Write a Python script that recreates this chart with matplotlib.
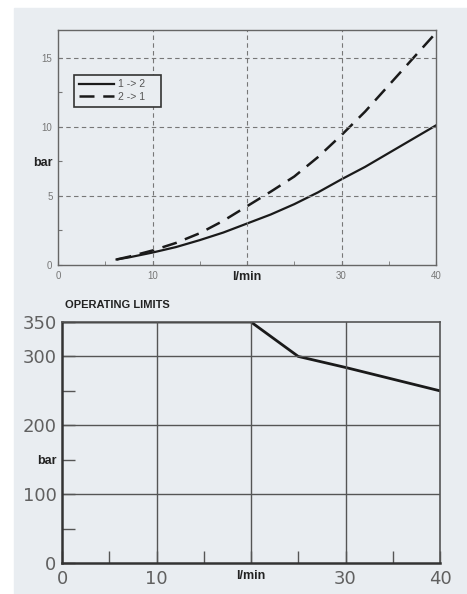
import matplotlib.pyplot as plt
from matplotlib.patches import Rectangle

# pressure drop curves (top chart)
flow_12 = [6.2, 7.5, 10, 12.5, 15, 17.5, 20, 22.5, 25, 27.5, 30, 32.5, 35, 37.5, 40]
dp_12 = [0.4, 0.55, 0.9, 1.3, 1.8, 2.35, 3.0, 3.65, 4.4, 5.25, 6.2, 7.1, 8.1, 9.1, 10.1]
flow_21 = [6.2, 7.5, 10, 12.5, 15, 17.5, 20, 22.5, 25, 27.5, 30, 32.5, 35, 37.5, 40]
dp_21 = [0.4, 0.6, 1.05, 1.6, 2.3, 3.2, 4.25, 5.3, 6.4, 7.8, 9.4, 11.1, 13.0, 14.9, 16.8]

# operating limits (bottom chart)
lim_flow = [0, 20, 25, 30, 35, 40]
lim_bar = [350, 350, 300, 284, 267, 250]

top_xticks = [0, 10, 20, 30, 40]
top_xlabels = ['0', '10', 'l/min', '30', '40']
top_yticks = [0, 2.5, 5, 7.5, 10, 12.5, 15]
top_ylabels = ['0', '', '5', 'bar', '10', '', '15']
bot_xticks = [0, 10, 20, 30, 40]
bot_xlabels = ['0', '10', 'l/min', '30', '40']
bot_yticks = [0, 50, 100, 150, 200, 250, 300, 350]
bot_ylabels = ['0', '', '100', 'bar', '200', '', '300', '350']

plt.rcParams['font.family'] = ['Liberation Sans', 'DejaVu Sans']
bg = '#e9edf1'
W, H = 467, 594
fig = plt.figure(figsize=(W / 100, H / 100), dpi=100)
fig.patch.set_facecolor('white')
fig.patches.append(Rectangle((14 / W, 0), 1 - 14 / W, 1 - 8 / H,
                             transform=fig.transFigure, color=bg, zorder=-10))

def px(l, t, r, b):
    return [l / W, 1 - b / H, (r - l) / W, (b - t) / H]

# top chart
ax = fig.add_axes(px(58, 30, 436, 265))
ax.set_facecolor(bg)
ax.plot(flow_12, dp_12, color='#1a1a1a', lw=1.6, label='1 -> 2')
ax.plot(flow_21, dp_21, color='#1a1a1a', lw=1.8, ls=(0, (6, 3.5)), label='2 -> 1')
ax.set_xlim(0, 40)
ax.set_ylim(0, 17)
ax.set_xticks(top_xticks)
ax.set_xticklabels(top_xlabels)
ax.set_xticks([5, 15, 25, 35], minor=True)
ax.set_yticks(top_yticks)
ax.set_yticklabels(top_ylabels)
for lab in ax.get_xticklabels() + ax.get_yticklabels():
    if lab.get_text() in ('l/min', 'bar'):
        lab.set_fontweight('bold')
        lab.set_fontsize(9)
        lab.set_color('#222222')
    else:
        lab.set_fontsize(7)
        lab.set_color('#777777')
ax.tick_params(which='both', direction='in', length=3, color='#777777', pad=4)
for x in [10, 20, 30]:
    ax.axvline(x, color='#777777', lw=0.8, ls=(0, (4, 3)))
for y in [5, 10, 15]:
    ax.axhline(y, color='#777777', lw=0.8, ls=(0, (4, 3)))
for s in ax.spines.values():
    s.set_color('#666666')
    s.set_linewidth(1.0)
leg = ax.legend(loc='upper left', bbox_to_anchor=(0.042, 0.81), fontsize=7.5,
                frameon=True, fancybox=False, handlelength=3.4,
                borderpad=0.45, labelspacing=0.25, handletextpad=0.4,
                borderaxespad=0)
leg.get_frame().set_edgecolor('#333333')
leg.get_frame().set_facecolor(bg)
leg.get_frame().set_linewidth(1.2)
leg.get_frame().set_alpha(1)
for t in leg.get_texts():
    t.set_color('#555555')
    t.set_text(t.get_text() + '    ')

# bottom chart
ax2 = fig.add_axes(px(62, 322, 440, 563))
ax2.set_facecolor(bg)
ax2.plot(lim_flow, lim_bar, color='#1a1a1a', lw=2)
ax2.set_xlim(0, 40)
ax2.set_ylim(0, 350)
ax2.set_xticks(bot_xticks)
ax2.set_xticklabels(bot_xlabels)
ax2.set_xticks([5, 15, 25, 35], minor=True)
ax2.set_yticks(bot_yticks)
ax2.set_yticklabels(bot_ylabels)
for lab in ax2.get_xticklabels() + ax2.get_yticklabels():
    if lab.get_text() in ('l/min', 'bar'):
        lab.set_fontweight('bold')
        lab.set_fontsize(9)
        lab.set_color('#222222')
    else:
        lab.set_fontsize(13)
        lab.set_color('#606060')
        lab.set_family('DejaVu Sans')
ax2.tick_params(which='both', direction='in', length=9, color='#555555', width=1)
ax2.tick_params(axis='y', pad=4)
ax2.tick_params(axis='x', pad=5)
for x in [10, 20, 30]:
    ax2.axvline(x, color='#555555', lw=1)
for y in [100, 200, 300]:
    ax2.axhline(y, color='#555555', lw=1)
for s in ax2.spines.values():
    s.set_color('#555555')
    s.set_linewidth(1.2)
ax2.spines['bottom'].set_color('#333333')
ax2.spines['bottom'].set_linewidth(1.8)
ax2.spines['left'].set_color('#333333')
ax2.spines['left'].set_linewidth(1.8)
fig.text(65 / W, 1 - 305 / H, 'OPERATING LIMITS', fontsize=8, fontweight='bold',
         color='#222222', va='center')

fig.savefig('out.png', dpi=100, facecolor=fig.get_facecolor())
